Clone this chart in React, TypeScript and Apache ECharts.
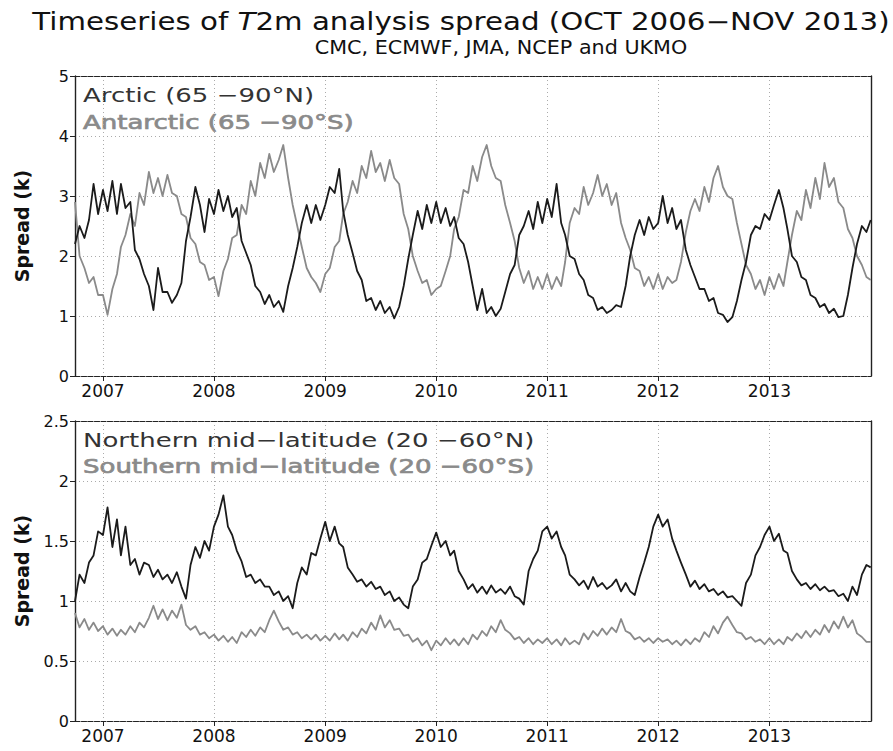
import React, { useEffect, useRef } from "react";
import * as echarts from "echarts";

// Semi-monthly samples (1st and 16th of each month) from Oct 2006 to Nov 2013,
// plus the closing value on 30 Nov 2013.
const START_YEAR = 2006;
const START_MONTH = 9; // October, 0-based

// Arctic (65-90°N) T2m analysis spread, K
const arctic = [
  2.20, 2.50, 2.30, 2.60, 3.20, 2.70,
  3.10, 2.75, 3.25, 2.70, 3.20, 2.80, 2.90, 2.10, 1.95, 1.70, 1.50, 1.10,
  1.80, 1.40, 1.40, 1.22, 1.35, 1.55, 2.25, 2.65, 3.15, 2.85, 2.40, 2.95,
  2.70, 3.10, 2.75, 3.00, 2.65, 2.80, 2.25, 2.05, 1.85, 1.50, 1.40, 1.20,
  1.35, 1.15, 1.25, 1.07, 1.50, 1.80, 2.15, 2.55, 2.85, 2.55, 2.85, 2.60,
  2.85, 3.15, 3.05, 3.45, 2.75, 2.35, 2.05, 1.75, 1.60, 1.25, 1.30, 1.10,
  1.25, 1.05, 1.15, 0.96, 1.15, 1.50, 1.95, 2.35, 2.75, 2.45, 2.85, 2.55,
  2.90, 2.55, 2.80, 2.50, 2.65, 2.30, 2.20, 1.90, 1.50, 1.10, 1.45, 1.05,
  1.15, 1.00, 1.12, 1.40, 1.70, 1.85, 2.35, 2.50, 2.75, 2.45, 2.90, 2.55,
  2.95, 2.65, 3.20, 2.55, 2.35, 2.00, 1.95, 1.70, 1.60, 1.35, 1.30, 1.10,
  1.15, 1.05, 1.10, 1.18, 1.15, 1.50, 2.00, 2.35, 2.60, 2.35, 2.65, 2.45,
  2.55, 3.00, 2.55, 2.80, 2.45, 2.60, 2.10, 1.85, 1.65, 1.45, 1.45, 1.25,
  1.30, 1.05, 1.02, 0.90, 0.98, 1.25, 1.60, 1.90, 2.35, 2.50, 2.45, 2.70,
  2.60, 2.85, 3.10, 2.80, 2.45, 2.00, 1.90, 1.65, 1.60, 1.35, 1.30, 1.15,
  1.20, 1.05, 1.12, 0.98, 1.00, 1.35, 1.80, 2.20, 2.50, 2.40,
  2.60,
];

// Antarctic (65-90°S) T2m analysis spread, K
const antarctic = [
  2.90, 2.00, 1.80, 1.55, 1.65, 1.35,
  1.35, 1.02, 1.45, 1.70, 2.15, 2.35, 2.70, 2.50, 3.05, 2.85, 3.40, 3.05,
  3.30, 3.00, 3.35, 3.05, 3.00, 2.70, 2.65, 2.30, 2.20, 1.90, 1.85, 1.60,
  1.65, 1.33, 1.75, 1.95, 2.30, 2.35, 2.85, 2.70, 3.25, 3.00, 3.55, 3.30,
  3.70, 3.40, 3.60, 3.85, 3.30, 2.85, 2.50, 2.15, 1.80, 1.65, 1.55, 1.40,
  1.70, 1.80, 2.15, 2.25, 2.70, 2.90, 3.25, 3.05, 3.50, 3.30, 3.75, 3.40,
  3.55, 3.25, 3.60, 3.30, 3.20, 2.70, 2.45, 2.00, 1.75, 1.55, 1.60, 1.35,
  1.45, 1.50, 1.75, 2.00, 2.45, 2.65, 3.10, 3.05, 3.50, 3.25, 3.65, 3.85,
  3.50, 3.30, 3.25, 2.85, 2.55, 2.25, 1.80, 1.55, 1.75, 1.45, 1.65, 1.45,
  1.70, 1.45, 1.65, 1.50, 1.90, 2.55, 2.80, 2.70, 3.15, 2.85, 3.05, 3.35,
  3.00, 3.20, 2.85, 3.05, 2.55, 2.30, 2.10, 1.80, 1.75, 1.50, 1.65, 1.45,
  1.70, 1.45, 1.65, 1.55, 1.60, 1.90, 2.40, 2.75, 2.95, 2.75, 3.15, 2.90,
  3.30, 3.50, 3.15, 3.00, 2.95, 2.55, 2.20, 1.85, 1.70, 1.45, 1.60, 1.35,
  1.65, 1.45, 1.70, 1.50, 1.90, 2.35, 2.75, 2.60, 3.10, 2.80, 3.30, 2.95,
  3.55, 3.15, 3.30, 2.90, 2.80, 2.45, 2.30, 2.00, 1.85, 1.65,
  1.60,
];

// Northern mid-latitude (20-60°N) T2m analysis spread, K
const northernMid = [
  1.00, 1.22, 1.15, 1.32, 1.38, 1.58,
  1.55, 1.78, 1.45, 1.68, 1.38, 1.62, 1.30, 1.35, 1.22, 1.32, 1.30, 1.20,
  1.26, 1.18, 1.22, 1.15, 1.24, 1.12, 1.02, 1.30, 1.45, 1.36, 1.50, 1.42,
  1.62, 1.72, 1.88, 1.62, 1.55, 1.42, 1.33, 1.20, 1.22, 1.15, 1.18, 1.12,
  1.12, 1.05, 1.08, 1.00, 1.04, 0.94, 1.15, 1.28, 1.22, 1.40, 1.38, 1.52,
  1.66, 1.50, 1.62, 1.48, 1.45, 1.28, 1.22, 1.16, 1.18, 1.12, 1.16, 1.10,
  1.12, 1.05, 1.08, 1.00, 1.03, 0.97, 0.94, 1.12, 1.18, 1.32, 1.35, 1.46,
  1.57, 1.45, 1.50, 1.38, 1.42, 1.25, 1.18, 1.10, 1.14, 1.07, 1.12, 1.06,
  1.13, 1.07, 1.10, 1.06, 1.12, 1.04, 1.02, 0.97, 1.25, 1.35, 1.42, 1.58,
  1.62, 1.52, 1.58, 1.45, 1.38, 1.22, 1.18, 1.13, 1.17, 1.10, 1.20, 1.12,
  1.15, 1.10, 1.13, 1.18, 1.08, 1.15, 1.08, 1.05, 1.20, 1.32, 1.45, 1.62,
  1.72, 1.62, 1.68, 1.52, 1.42, 1.32, 1.22, 1.12, 1.17, 1.10, 1.14, 1.08,
  1.10, 1.05, 1.08, 1.03, 1.04, 1.00, 0.96, 1.15, 1.22, 1.38, 1.45, 1.55,
  1.62, 1.50, 1.56, 1.42, 1.40, 1.25, 1.18, 1.13, 1.15, 1.10, 1.14, 1.09,
  1.12, 1.08, 1.09, 1.04, 1.06, 1.00, 1.12, 1.05, 1.22, 1.30,
  1.28,
];

// Southern mid-latitude (20-60°S) T2m analysis spread, K
const southernMid = [
  0.90, 0.78, 0.85, 0.76, 0.82, 0.75,
  0.79, 0.72, 0.77, 0.71, 0.76, 0.72, 0.79, 0.74, 0.82, 0.78, 0.86, 0.96,
  0.85, 0.93, 0.84, 0.92, 0.86, 0.97, 0.80, 0.76, 0.79, 0.72, 0.74, 0.69,
  0.72, 0.67, 0.71, 0.66, 0.70, 0.65, 0.74, 0.70, 0.76, 0.71, 0.78, 0.74,
  0.84, 0.92, 0.83, 0.76, 0.78, 0.72, 0.74, 0.69, 0.72, 0.68, 0.72, 0.67,
  0.71, 0.67, 0.73, 0.68, 0.72, 0.67, 0.74, 0.70, 0.77, 0.73, 0.82, 0.76,
  0.88, 0.78, 0.84, 0.76, 0.77, 0.71, 0.72, 0.66, 0.69, 0.63, 0.67, 0.59,
  0.67, 0.63, 0.69, 0.64, 0.68, 0.63, 0.69, 0.64, 0.72, 0.68, 0.75, 0.71,
  0.79, 0.74, 0.84, 0.76, 0.73, 0.68, 0.70, 0.65, 0.69, 0.64, 0.68, 0.65,
  0.69, 0.64, 0.68, 0.63, 0.69, 0.64, 0.67, 0.64, 0.73, 0.68, 0.75, 0.71,
  0.77, 0.72, 0.78, 0.74, 0.85, 0.75, 0.73, 0.68, 0.70, 0.66, 0.69, 0.65,
  0.69, 0.66, 0.68, 0.64, 0.67, 0.63, 0.68, 0.64, 0.69, 0.66, 0.74, 0.70,
  0.79, 0.73, 0.82, 0.87, 0.80, 0.74, 0.73, 0.68, 0.70, 0.66, 0.68, 0.64,
  0.69, 0.64, 0.68, 0.64, 0.70, 0.67, 0.73, 0.69, 0.75, 0.70, 0.76, 0.72,
  0.80, 0.74, 0.83, 0.77, 0.87, 0.78, 0.84, 0.73, 0.70, 0.66,
  0.66,
];

const panelTopTicks = { max: 5, interval: 1 };
const panelBottomTicks = { max: 2.5, interval: 0.5 };

const BLACK = "#1b1b1b";
const GRAY = "#8a8a8a";
const FONT = "'DejaVu Sans', 'Liberation Sans', sans-serif";

const xMin = new Date(2006, 9, 1).getTime();
const xMax = new Date(2013, 11, 1).getTime();
const DAY = 24 * 3600 * 1000;

function withDates(values: number[]): [number, number][] {
  const out: [number, number][] = [];
  const n = values.length - 1;
  for (let i = 0; i < n; i++) {
    const month = START_MONTH + Math.floor(i / 2);
    const day = i % 2 === 0 ? 1 : 16;
    out.push([new Date(START_YEAR, month, day).getTime(), values[i]]);
  }
  out.push([new Date(2013, 10, 30).getTime(), values[n]]);
  return out;
}

const dotted = { color: "#ababab", width: 1, type: [1, 3] as number[] };
const frameColor = "#222";

function bottomX(gridIndex: number) {
  return {
    type: "time",
    gridIndex,
    position: "bottom",
    min: xMin,
    max: xMax,
    minInterval: 365 * DAY,
    maxInterval: 366 * DAY,
    axisLine: {
      show: true,
      onZero: false,
      lineStyle: { color: frameColor, width: 1.2, type: [5, 1.5] },
    },
    axisTick: { show: true, length: 5, lineStyle: { color: frameColor, width: 1 } },
    axisLabel: {
      formatter: "{yyyy}",
      fontSize: 17,
      color: "#111",
      margin: 6,
      fontFamily: FONT,
      showMinLabel: false,
      showMaxLabel: false,
    },
    splitLine: { show: true, lineStyle: dotted },
  };
}

function topX(gridIndex: number) {
  return {
    type: "time",
    gridIndex,
    position: "top",
    min: xMin,
    max: xMax,
    axisLine: {
      show: true,
      onZero: false,
      lineStyle: { color: frameColor, width: 1.2, type: [5, 1.5] },
    },
    axisTick: { show: false },
    axisLabel: { show: false },
    splitLine: { show: false },
  };
}

function leftY(gridIndex: number, ticks: { max: number; interval: number }) {
  return {
    type: "value",
    gridIndex,
    position: "left",
    min: 0,
    max: ticks.max,
    interval: ticks.interval,
    name: "Spread (k)",
    nameLocation: "middle",
    nameGap: 44,
    nameTextStyle: { fontSize: 19, fontWeight: "bold", color: "#111", fontFamily: FONT },
    axisLine: { show: true, onZero: false, lineStyle: { color: frameColor, width: 1.4 } },
    axisTick: { show: true, length: 5, lineStyle: { color: frameColor, width: 1 } },
    axisLabel: { fontSize: 16, color: "#111", margin: 6, fontFamily: FONT },
    splitLine: { show: true, lineStyle: dotted },
  };
}

function rightY(gridIndex: number, ticks: { max: number; interval: number }) {
  return {
    type: "value",
    gridIndex,
    position: "right",
    min: 0,
    max: ticks.max,
    interval: ticks.interval,
    axisLine: { show: true, onZero: false, lineStyle: { color: frameColor, width: 1.4 } },
    axisTick: { show: false },
    axisLabel: { show: false },
    splitLine: { show: false },
  };
}

function lineSeries(xi: number, yi: number, values: number[], color: string, name: string) {
  return {
    name,
    type: "line",
    xAxisIndex: xi,
    yAxisIndex: yi,
    data: withDates(values),
    showSymbol: false,
    symbol: "none",
    silent: true,
    lineStyle: { color, width: 1.8, join: "round" },
  };
}

// Panel captions, stretched horizontally to the wide plotting font
function legendText(y: number, text: string, color: string, heavy: boolean) {
  return {
    type: "text",
    x: 83,
    y,
    scaleX: 1.3,
    style: {
      text,
      fill: color,
      stroke: heavy ? color : undefined,
      lineWidth: heavy ? 0.7 : 0,
      fontSize: 20,
      fontFamily: FONT,
      verticalAlign: "middle",
      align: "left",
    },
  };
}

export default function App() {
  const ref = useRef<HTMLDivElement>(null);

  useEffect(() => {
    if (!ref.current) return;
    const chart = echarts.init(ref.current, undefined, { renderer: "svg" });
    const option = {
      animation: false,
      backgroundColor: "#ffffff",
      grid: [
        { left: 75, top: 76, width: 796, height: 300, show: false, outerBoundsMode: "none" },
        { left: 75, top: 421, width: 796, height: 300, show: false, outerBoundsMode: "none" },
      ],
      xAxis: [bottomX(0), bottomX(1), topX(0), topX(1)],
      yAxis: [
        leftY(0, panelTopTicks),
        leftY(1, panelBottomTicks),
        rightY(0, panelTopTicks),
        rightY(1, panelBottomTicks),
      ],
      series: [
        lineSeries(0, 0, antarctic, GRAY, "Antarctic"),
        lineSeries(0, 0, arctic, BLACK, "Arctic"),
        lineSeries(1, 1, southernMid, GRAY, "Southern mid-latitude"),
        lineSeries(1, 1, northernMid, BLACK, "Northern mid-latitude"),
      ],
      graphic: [
        {
          type: "text",
          x: 461,
          y: 21,
          scaleX: 1.22,
          style: {
            text: "{a|Timeseries of }{i|T}{a|2m analysis spread (OCT 2006−NOV 2013)}",
            align: "center",
            verticalAlign: "middle",
            fill: "#111",
            fontSize: 24,
            fontFamily: FONT,
            rich: {
              a: { fontSize: 24, fontFamily: FONT, fill: "#111" },
              i: { fontSize: 24, fontFamily: FONT, fontStyle: "italic", fill: "#111" },
            },
          },
        },
        {
          type: "text",
          x: 501,
          y: 48,
          scaleX: 1.09,
          style: {
            text: "CMC, ECMWF, JMA, NCEP and UKMO",
            align: "center",
            verticalAlign: "middle",
            fill: "#111",
            fontSize: 19,
            fontFamily: FONT,
          },
        },
        legendText(95, "Arctic (65 −90°N)", "#333", false),
        legendText(122, "Antarctic (65 −90°S)", GRAY, true),
        legendText(440, "Northern mid−latitude (20 −60°N)", "#333", false),
        legendText(466, "Southern mid−latitude (20 −60°S)", GRAY, true),
      ],
    };
    chart.setOption(option as any);
    return () => chart.dispose();
  }, []);

  return (
    <div
      ref={ref}
      style={{ position: "absolute", left: 0, top: 0, width: 893, height: 751, background: "#fff" }}
    />
  );
}
